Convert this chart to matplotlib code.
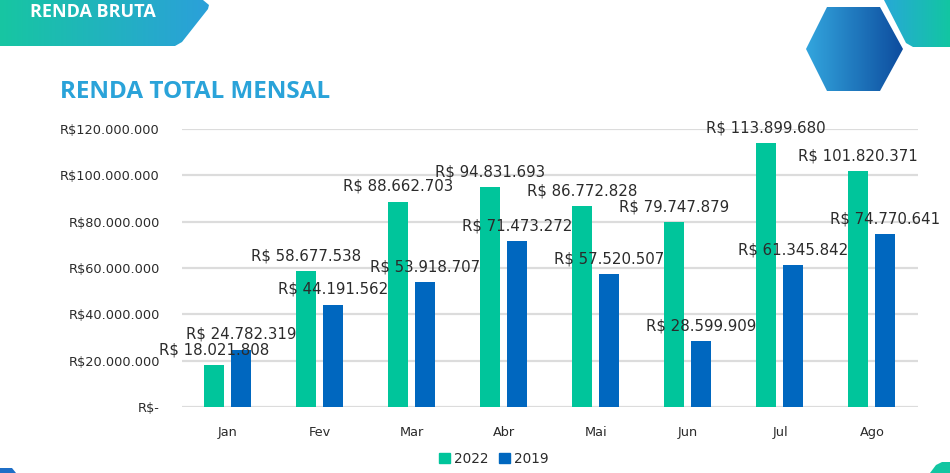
import numpy as np
import matplotlib
matplotlib.use('Agg')
import matplotlib.pyplot as plt
from matplotlib.patches import Polygon, Patch
from matplotlib.colors import LinearSegmentedColormap
from matplotlib.ticker import FuncFormatter

plt.rcParams['font.family'] = ['DejaVu Sans']

meses = ['Jan', 'Fev', 'Mar', 'Abr', 'Mai', 'Jun', 'Jul', 'Ago']
renda_2022 = [18021808, 58677538, 88662703, 94831693, 86772828, 79747879, 113899680, 101820371]
renda_2019 = [24782319, 44191562, 53918707, 71473272, 57520507, 28599909, 61345842, 74770641]

verde = '#00c59b'
azul = '#0067bf'
texto = '#2b2b2b'


def brl(v):
    return 'R$ ' + '{:,.0f}'.format(v).replace(',', '.')


def eixo_fmt(v, pos):
    if v == 0:
        return 'R$-'
    return 'R$' + '{:,.0f}'.format(v).replace(',', '.')


def forma_gradiente(ax, pts, c1, c2):
    # poligono preenchido com degrade horizontal
    pts = np.array(pts, dtype=float)
    poly = Polygon(pts, closed=True, facecolor='none', edgecolor='none')
    ax.add_patch(poly)
    cmap = LinearSegmentedColormap.from_list('g', [c1, c2])
    grad = np.linspace(0, 1, 256).reshape(1, -1)
    x0, x1 = pts[:, 0].min(), pts[:, 0].max()
    y0, y1 = pts[:, 1].min(), pts[:, 1].max()
    im = ax.imshow(grad, cmap=cmap, extent=[x0, x1, y1, y0], aspect='auto', zorder=1)
    im.set_clip_path(poly)


fig = plt.figure(figsize=(9.5, 4.73), dpi=100)

# camada de fundo com as formas decorativas (coordenadas em pixels)
bg = fig.add_axes([0, 0, 1, 1])
bg.set_xlim(0, 950)
bg.set_ylim(473, 0)
bg.axis('off')

forma_gradiente(bg, [(0, 0), (203, 0), (209, 5), (208, 9), (182, 42), (175, 46), (0, 46)], '#17c6a2', '#2ba0da')
forma_gradiente(bg, [(806, 49), (827, 7), (880, 7), (903, 49), (880, 91), (827, 91)], '#33a6de', '#0d4c9e')
forma_gradiente(bg, [(884, 0), (950, 0), (950, 47), (913, 47), (906, 43)], '#27a9d6', '#12c6a2')
forma_gradiente(bg, [(930, 473), (936, 465), (942, 462), (950, 462), (950, 473)], '#12c6a2', '#12c6a2')
forma_gradiente(bg, [(0, 468), (12, 468), (16, 473), (0, 473)], '#1f6fc7', '#1f6fc7')

bg.text(30, 12, 'RENDA BRUTA', color='white', fontsize=13, fontweight='bold', va='center', ha='left',
        family=['Open Sans', 'DejaVu Sans'])

fig.text(60 / 950, 1 - 92 / 473, 'RENDA TOTAL MENSAL', color='#2aa3d9', fontsize=17.5,
         fontweight='bold', va='center', ha='left', family=['Open Sans', 'DejaVu Sans'])

# grafico principal
ax = fig.add_axes([182 / 950, 66 / 473, 736 / 950, 278 / 473])
x = np.arange(len(meses))
w = 0.22
b1 = ax.bar(x - 0.15, renda_2022, width=w, color=verde, label='2022', zorder=3)
b2 = ax.bar(x + 0.14, renda_2019, width=w, color=azul, label='2019', zorder=3)

for barras, vals in ((b1, renda_2022), (b2, renda_2019)):
    for r, v in zip(barras, vals):
        ax.annotate(brl(v), (r.get_x() + r.get_width() / 2, v), xytext=(0, 5.5),
                    textcoords='offset points', ha='center', va='bottom',
                    fontsize=10.8, color=texto, zorder=4)

ax.set_xlim(-0.5, len(meses) - 0.5)
ax.set_ylim(0, 120000000)
ax.set_yticks(np.arange(0, 120000001, 20000000))
ax.yaxis.set_major_formatter(FuncFormatter(eixo_fmt))
ax.set_xticks(x)
ax.set_xticklabels(meses)
ax.grid(axis='y', color='#dcdcdc', linewidth=1.6, zorder=0)
for s in ax.spines.values():
    s.set_visible(False)
ax.tick_params(axis='both', length=0, colors=texto, labelsize=9.3)
ax.tick_params(axis='y', pad=16)
ax.tick_params(axis='x', pad=14)
ax.set_facecolor('none')

fig.legend(handles=[Patch(color=verde, label='2022'), Patch(color=azul, label='2019')],
           loc='center', bbox_to_anchor=(494 / 950, 1 - 459 / 473), ncol=2, frameon=False,
           fontsize=9.8, handlelength=0.8, handleheight=0.8, handletextpad=0.3,
           columnspacing=0.8, labelcolor=texto)

fig.savefig('out.png', dpi=100)
